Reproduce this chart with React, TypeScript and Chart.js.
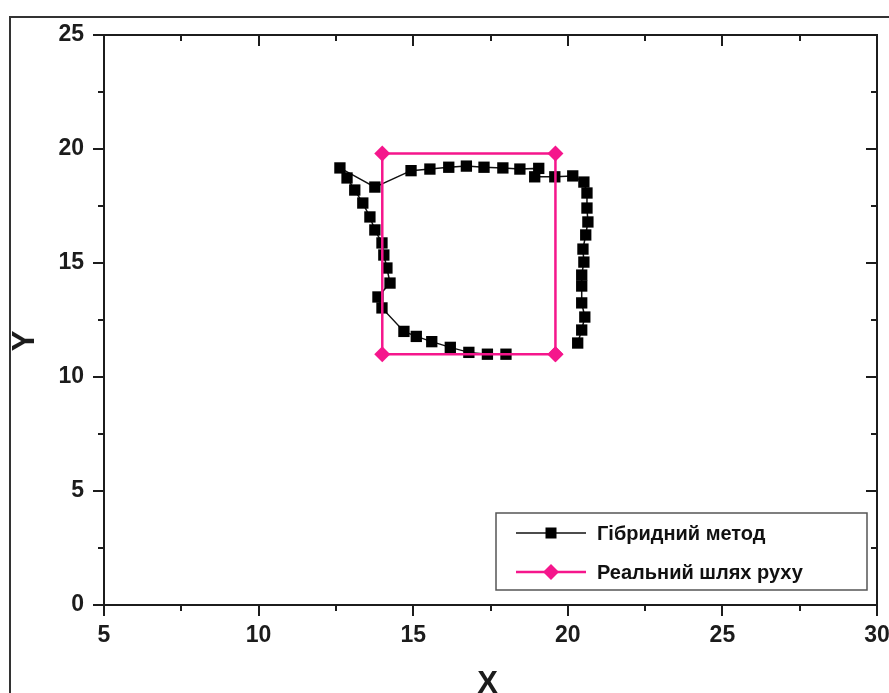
import React, { useEffect, useRef } from "react";
import { Chart, registerables } from "chart.js";

Chart.register(...registerables);

// ---- data ----
const seriesLabels = ["Гібридний метод", "Реальний шлях руху"];
const axisTitles = ["X", "Y"];

const xTickLabels = [5, 10, 15, 20, 25, 30];
const yTickLabels = [0, 5, 10, 15, 20, 25];

// estimated trajectory (hybrid method)
const hybridX = [
  18.0, 17.4, 16.8, 16.2, 15.6, 15.1, 14.7,
  13.99, 13.86, 14.25, 14.15, 14.05, 13.99, 13.76, 13.6, 13.37, 13.11, 12.86, 12.63,
  13.76,
  14.93, 15.54, 16.15, 16.72, 17.29, 17.9, 18.45, 19.06, 18.93, 19.58, 20.16, 20.52,
  20.62, 20.62, 20.65, 20.58, 20.49, 20.52, 20.45, 20.45, 20.45, 20.55, 20.45, 20.32,
];
const hybridY = [
  11.0, 11.0, 11.08, 11.3, 11.55, 11.78, 12.0,
  13.03, 13.51, 14.12, 14.78, 15.35, 15.88, 16.45, 17.02, 17.63, 18.2, 18.73, 19.17,
  18.33,
  19.05, 19.12, 19.2, 19.25, 19.2, 19.17, 19.12, 19.15, 18.78, 18.78, 18.82, 18.55,
  18.07, 17.41, 16.8, 16.23, 15.61, 15.04, 14.47, 13.99, 13.25, 12.63, 12.06, 11.49,
];

// real movement path
const realX = [19.6, 14.0, 14.0, 19.6, 19.6];
const realY = [11.0, 11.0, 19.8, 19.8, 11.0];

const FONT = "'Liberation Sans', Arial, sans-serif";
const INK = "#1c1c1c";
const PINK = "#f5168c";

const framePlugin = {
  id: "frameAndLegend",
  afterDraw(chart: any) {
    const { ctx, chartArea: a, scales } = chart;
    const x = scales.x;
    const y = scales.y;
    ctx.save();
    ctx.strokeStyle = INK;
    ctx.lineWidth = 2;
    ctx.lineCap = "butt";
    const seg = (x1: number, y1: number, x2: number, y2: number) => {
      ctx.beginPath();
      ctx.moveTo(x1, y1);
      ctx.lineTo(x2, y2);
      ctx.stroke();
    };
    // axes box
    ctx.strokeRect(a.left, a.top, a.right - a.left, a.bottom - a.top);
    // x ticks (bottom outward, top inward)
    for (let v = x.min; v <= x.max + 1e-9; v += 2.5) {
      const px = Math.round(x.getPixelForValue(v));
      const major = Math.abs(v / 5 - Math.round(v / 5)) < 1e-6;
      const L = major ? 11 : 6;
      seg(px, a.bottom, px, a.bottom + L);
      seg(px, a.top, px, a.top + L);
    }
    // y ticks (left outward, right inward)
    for (let v = y.min; v <= y.max + 1e-9; v += 2.5) {
      const py = Math.round(y.getPixelForValue(v));
      const major = Math.abs(v / 5 - Math.round(v / 5)) < 1e-6;
      const L = major ? 11 : 6;
      seg(a.left - L, py, a.left, py);
      seg(a.right - L, py, a.right, py);
    }

    // axis titles
    ctx.fillStyle = INK;
    ctx.font = `bold 31px ${FONT}`;
    ctx.textAlign = "center";
    ctx.textBaseline = "middle";
    ctx.fillText(axisTitles[0], (a.left + a.right) / 2 - 3, a.bottom + 79);
    ctx.save();
    ctx.translate(25, (a.top + a.bottom) / 2 + 21);
    ctx.rotate(-Math.PI / 2);
    ctx.fillText(axisTitles[1], 0, 0);
    ctx.restore();

    // legend box
    const boxW = 371;
    const boxH = 77;
    const bx = a.right - 10 - boxW;
    const by = a.bottom - 15 - boxH;
    ctx.fillStyle = "#fff";
    ctx.fillRect(bx, by, boxW, boxH);
    ctx.strokeStyle = "#555";
    ctx.lineWidth = 1.5;
    ctx.strokeRect(bx, by, boxW, boxH);

    chart.data.datasets.forEach((ds: any, i: number) => {
      const cy = by + 20 + i * 39;
      ctx.strokeStyle = ds.borderColor;
      ctx.lineWidth = ds.borderWidth;
      seg(bx + 20, cy, bx + 90, cy);
      const cx = bx + 55;
      ctx.fillStyle = ds.pointBackgroundColor;
      if (ds.pointStyle === "rect") {
        ctx.fillRect(cx - 5.5, cy - 5.5, 11, 11);
      } else {
        const r = 8;
        ctx.beginPath();
        ctx.moveTo(cx - r, cy);
        ctx.lineTo(cx, cy - r);
        ctx.lineTo(cx + r, cy);
        ctx.lineTo(cx, cy + r);
        ctx.closePath();
        ctx.fill();
      }
      ctx.fillStyle = "#111";
      ctx.font = `bold 20px ${FONT}`;
      ctx.textAlign = "left";
      ctx.textBaseline = "middle";
      ctx.fillText(ds.label, bx + 101, cy + 1);
    });
    ctx.restore();
  },
};

export default function App() {
  const canvasRef = useRef<HTMLCanvasElement | null>(null);

  useEffect(() => {
    if (!canvasRef.current) return;
    const hybrid = hybridX.map((v, i) => ({ x: v, y: hybridY[i] }));
    const real = realX.map((v, i) => ({ x: v, y: realY[i] }));
    const chart = new Chart(canvasRef.current, {
      type: "scatter",
      data: {
        datasets: [
          {
            label: seriesLabels[0],
            data: hybrid,
            showLine: true,
            borderColor: "#111",
            borderWidth: 1.5,
            pointStyle: "rect",
            pointRadius: 8,
            pointBackgroundColor: "#000",
            pointBorderColor: "#000",
            pointBorderWidth: 0,
            order: 2,
          } as any,
          {
            label: seriesLabels[1],
            data: real,
            showLine: true,
            borderColor: PINK,
            borderWidth: 2.5,
            pointStyle: "rectRot",
            pointRadius: 8,
            pointBackgroundColor: PINK,
            pointBorderColor: PINK,
            pointBorderWidth: 0,
            order: 1,
          } as any,
        ],
      },
      options: {
        animation: false,
        responsive: false,
        devicePixelRatio: 1,
        layout: { padding: { top: 35, right: 12, left: 0, bottom: 0 } },
        plugins: {
          legend: { display: false },
          tooltip: { enabled: false },
        },
        scales: {
          x: {
            type: "linear",
            min: xTickLabels[0],
            max: xTickLabels[xTickLabels.length - 1],
            afterBuildTicks: (s: any) => {
              s.ticks = xTickLabels.map((v) => ({ value: v }));
            },
            afterFit: (s: any) => {
              s.height = 88;
              s.paddingRight = 0;
              s.paddingLeft = 0;
            },
            grid: { display: false, drawTicks: false },
            border: { display: false },
            ticks: {
              padding: 17,
              color: INK,
              font: { family: FONT, size: 23, weight: "bold" },
              maxRotation: 0,
              autoSkip: false,
            },
          },
          y: {
            type: "linear",
            min: yTickLabels[0],
            max: yTickLabels[yTickLabels.length - 1],
            afterBuildTicks: (s: any) => {
              s.ticks = yTickLabels.map((v) => ({ value: v }));
            },
            afterFit: (s: any) => {
              s.width = 104;
              s.paddingTop = 0;
              s.paddingBottom = 0;
            },
            grid: { display: false, drawTicks: false },
            border: { display: false },
            ticks: {
              padding: 20,
              color: INK,
              font: { family: FONT, size: 23, weight: "bold" },
              autoSkip: false,
            },
          },
        },
      },
      plugins: [framePlugin],
    });
    return () => chart.destroy();
  }, []);

  return (
    <div
      style={{
        position: "absolute",
        left: 0,
        top: 0,
        width: 889,
        height: 693,
        overflow: "hidden",
        background: "#fff",
      }}
    >
      <div
        style={{
          position: "absolute",
          left: 9,
          top: 16,
          width: 880,
          height: 677,
          borderLeft: "2px solid #333",
          borderTop: "2px solid #333",
          boxSizing: "border-box",
        }}
      />
      <canvas
        ref={canvasRef}
        width={889}
        height={693}
        style={{ position: "absolute", left: 0, top: 0, width: 889, height: 693 }}
      />
    </div>
  );
}
